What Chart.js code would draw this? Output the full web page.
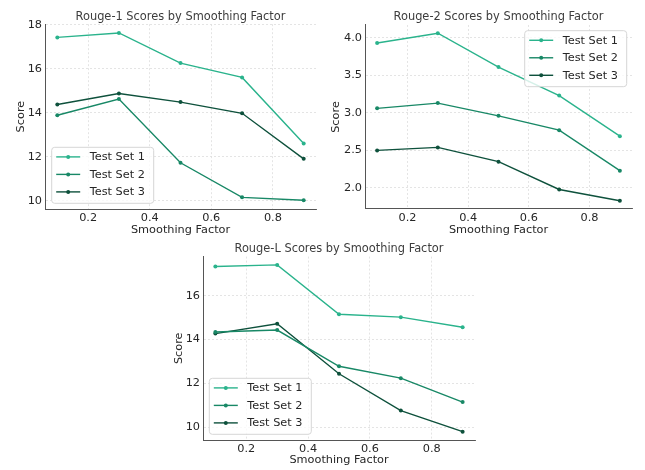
<!DOCTYPE html>
<html>
<head>
<meta charset="utf-8">
<script src="https://cdn.jsdelivr.net/npm/chart.js@4.4.1/dist/chart.umd.min.js"></script>
<style>
    html, body { margin: 0; padding: 0; background: #fff; }
    body { position: relative; width: 645px; height: 470px; overflow: hidden; }
    canvas { position: absolute; }
</style>
</head>
<body>
<canvas id="rouge1" width="330" height="237" style="left:0px;top:0px"></canvas>
<canvas id="rouge2" width="325" height="237" style="left:320px;top:0px"></canvas>
<canvas id="rougeL" width="330" height="231" style="left:158px;top:236px"></canvas>
<script>
    "use strict";

    const smoothing = [0.1, 0.3, 0.5, 0.7, 0.9];
    const seriesNames = ['Test Set 1', 'Test Set 2', 'Test Set 3'];
    const seriesColors = ['#2ab38c', '#188866', '#0e513c'];

    const rouge1Set1 = [17.42, 17.62, 16.25, 15.60, 12.60];
    const rouge1Set2 = [13.88, 14.62, 11.72, 10.15, 10.02];
    const rouge1Set3 = [14.37, 14.87, 14.48, 13.97, 11.90];

    const rouge2Set1 = [3.93, 4.06, 3.61, 3.23, 2.69];
    const rouge2Set2 = [3.06, 3.13, 2.96, 2.77, 2.23];
    const rouge2Set3 = [2.50, 2.54, 2.35, 1.98, 1.83];

    const rougeLSet1 = [17.33, 17.40, 15.15, 15.02, 14.56];
    const rougeLSet2 = [14.34, 14.43, 12.78, 12.24, 11.15];
    const rougeLSet3 = [14.27, 14.72, 12.44, 10.76, 9.80];

    const xTicks = [0.2, 0.4, 0.6, 0.8];
    const rouge1Ticks = [10, 12, 14, 16, 18];
    const rouge2Ticks = [2.0, 2.5, 3.0, 3.5, 4.0];
    const rougeLTicks = [10, 12, 14, 16];

    const FONT = 'DejaVu Sans';
    const TEXT_SIZE = 11.3;

    // legend drawn inside the axes, matplotlib style
    const insideLegend = {
        id: 'insideLegend',
        afterDatasetsDraw(chart, args, opts) {
            const ctx = chart.ctx;
            const area = chart.chartArea;
            const rowGap = 17.5;
            const boxW = 102;
            const boxH = 56;
            let left, top;
            if (opts.corner === 'upperRight') {
                left = area.right - opts.dx - boxW;
                top = area.top + opts.dy;
            } else {
                left = area.left + opts.dx;
                top = area.bottom - opts.dy - boxH;
            }
            ctx.save();
            ctx.beginPath();
            ctx.roundRect(left, top, boxW, boxH, 3);
            ctx.fillStyle = 'rgba(255,255,255,0.8)';
            ctx.fill();
            ctx.strokeStyle = '#d6d6d6';
            ctx.lineWidth = 1;
            ctx.stroke();
            ctx.font = TEXT_SIZE + 'px "' + FONT + '"';
            ctx.textBaseline = 'middle';
            ctx.textAlign = 'left';
            chart.data.datasets.forEach((ds, i) => {
                const y = top + 9.6 + i * rowGap;
                ctx.strokeStyle = ds.borderColor;
                ctx.lineWidth = 1.4;
                ctx.beginPath();
                ctx.moveTo(left + 4.5, y);
                ctx.lineTo(left + 28.5, y);
                ctx.stroke();
                ctx.fillStyle = ds.borderColor;
                ctx.beginPath();
                ctx.arc(left + 16.5, y, 2, 0, Math.PI * 2);
                ctx.fill();
                ctx.fillStyle = '#262626';
                ctx.fillText(ds.label, left + 38, y + 0.5);
            });
            ctx.restore();
        }
    };

    function makeChart(id, cfg) {
        let datasets = [];
        for (let i in cfg.series) {
            datasets.push({
                label: seriesNames[i],
                data: smoothing.map((x, j) => ({x: x, y: cfg.series[i][j]})),
                borderColor: seriesColors[i],
                backgroundColor: seriesColors[i],
                borderWidth: 1.4,
                pointRadius: 2,
                pointBorderWidth: 0,
                pointBackgroundColor: seriesColors[i],
                tension: 0,
                fill: false,
            });
        }

        return new Chart(document.getElementById(id), {
            type: 'line',
            data: {datasets: datasets},
            plugins: [insideLegend],
            options: {
                responsive: false,
                animation: false,
                events: [],
                layout: {
                    padding: {left: 0, top: 0, bottom: 0, right: cfg.padRight},
                },
                plugins: {
                    legend: {display: false},
                    tooltip: {enabled: false},
                    title: {
                        display: true,
                        text: cfg.title,
                        fullSize: false,
                        color: '#3d3d3d',
                        font: {family: FONT, size: 11.4, weight: 'normal', lineHeight: 1.2},
                        padding: {top: cfg.titleTop, bottom: cfg.titleBottom},
                    },
                    insideLegend: cfg.legend,
                },
                scales: {
                    x: {
                        type: 'linear',
                        min: 0.06,
                        max: 0.94,
                        afterBuildTicks: (scale) => {
                            scale.ticks = xTicks.map(v => ({value: v}));
                        },
                        afterFit: (scale) => {
                            scale.height = cfg.xHeight;
                        },
                        ticks: {
                            color: '#262626',
                            padding: 2,
                            maxRotation: 0,
                            font: {family: FONT, size: TEXT_SIZE},
                            callback: (v) => Number(v).toFixed(1),
                        },
                        grid: {color: '#dedede', lineWidth: 0.8, drawTicks: false},
                        border: {display: true, color: '#555', width: 1, dash: [2, 2]},
                        title: {
                            display: true,
                            text: 'Smoothing Factor',
                            color: '#262626',
                            font: {family: FONT, size: TEXT_SIZE},
                            padding: {top: 0, bottom: 0.4},
                        },
                    },
                    y: {
                        type: 'linear',
                        min: cfg.yMin,
                        max: cfg.yMax,
                        afterBuildTicks: (scale) => {
                            scale.ticks = cfg.yTicks.map(v => ({value: v}));
                        },
                        afterFit: (scale) => {
                            scale.width = 45;
                        },
                        ticks: {
                            color: '#262626',
                            padding: 3,
                            font: {family: FONT, size: TEXT_SIZE},
                            callback: (v) => cfg.yDigits ? Number(v).toFixed(cfg.yDigits) : String(v),
                        },
                        grid: {color: '#dedede', lineWidth: 0.8, drawTicks: false},
                        border: {display: true, color: '#555', width: 1, dash: [2, 2]},
                        title: {
                            display: true,
                            text: 'Score',
                            color: '#262626',
                            font: {family: FONT, size: TEXT_SIZE},
                            padding: {top: cfg.yTitlePad, bottom: 0},
                        },
                    },
                },
            },
        });
    }

    makeChart('rouge1', {
        title: 'Rouge-1 Scores by Smoothing Factor',
        series: [rouge1Set1, rouge1Set2, rouge1Set3],
        yMin: 9.62, yMax: 18.02, yTicks: rouge1Ticks, yDigits: 0,
        padRight: 14, titleTop: 10, titleBottom: 0.5, xHeight: 28, yTitlePad: 13.8,
        legend: {corner: 'lowerLeft', dx: 6.7, dy: 5.7},
    });

    makeChart('rouge2', {
        title: 'Rouge-2 Scores by Smoothing Factor',
        series: [rouge2Set1, rouge2Set2, rouge2Set3],
        yMin: 1.72, yMax: 4.17, yTicks: rouge2Ticks, yDigits: 1,
        padRight: 13, titleTop: 10.5, titleBottom: 0.8, xHeight: 28, yTitlePad: 8.9,
        legend: {corner: 'upperRight', dx: 5.3, dy: 5.7},
    });

    makeChart('rougeL', {
        title: 'Rouge-L Scores by Smoothing Factor',
        series: [rougeLSet1, rougeLSet2, rougeLSet3],
        yMin: 9.42, yMax: 17.78, yTicks: rougeLTicks, yDigits: 0,
        padRight: 13, titleTop: 6.5, titleBottom: 0.4, xHeight: 27, yTitlePad: 14.5,
        legend: {corner: 'lowerLeft', dx: 6.3, dy: 5.7},
    });
</script>
</body>
</html>
